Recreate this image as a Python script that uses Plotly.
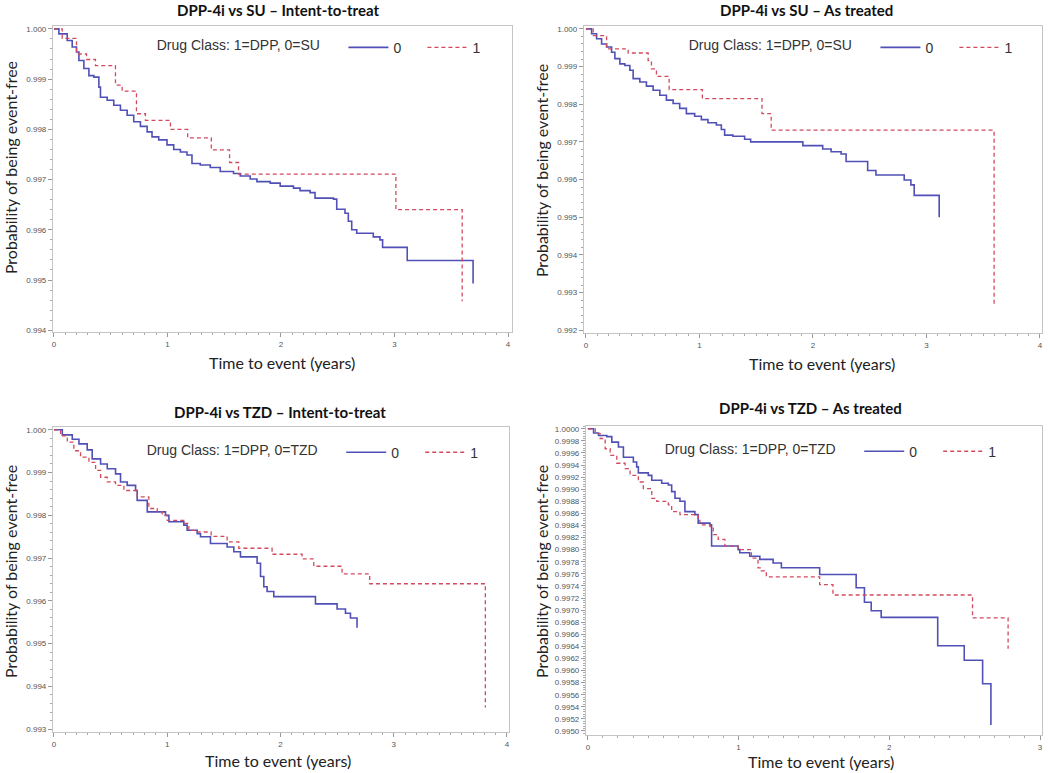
import plotly.graph_objects as go

# Kaplan-Meier estimates (time in years, survival probability)
# DPP-4i vs SU, intent-to-treat
su_itt_t0 = [0, 0.044, 0.117, 0.161, 0.199, 0.220, 0.264, 0.308, 0.352, 0.396, 0.410, 0.469,
             0.527, 0.586, 0.645, 0.703, 0.762, 0.821, 0.864, 0.923, 0.996, 1.055, 1.114,
             1.172, 1.216, 1.289, 1.377, 1.465, 1.582, 1.641, 1.729, 1.788, 1.905, 1.993,
             2.110, 2.168, 2.256, 2.300, 2.462, 2.491, 2.564, 2.593, 2.623, 2.667, 2.813,
             2.872, 2.895, 3.112, 3.692]
su_itt_s0 = [1.0, 0.99990, 0.99977, 0.99964, 0.99954, 0.99937, 0.99921, 0.99907, 0.99904,
             0.99884, 0.99864, 0.99858, 0.99848, 0.99838, 0.99828, 0.99815, 0.99806, 0.99795,
             0.99785, 0.99779, 0.99769, 0.99760, 0.99755, 0.99749, 0.99732, 0.99729, 0.99724,
             0.99716, 0.99712, 0.99707, 0.99701, 0.99696, 0.99693, 0.99687, 0.99683, 0.99678,
             0.99674, 0.99663, 0.99661, 0.99641, 0.99633, 0.99617, 0.99600, 0.99593, 0.99586,
             0.99580, 0.99565, 0.99539, 0.99493]
su_itt_t1 = [0, 0.073, 0.199, 0.287, 0.366, 0.542, 0.601, 0.727, 0.806, 1.026, 1.178, 1.386,
             1.547, 1.626, 3.012, 3.596]
su_itt_s1 = [1.0, 0.99981, 0.99950, 0.99939, 0.99927, 0.99888, 0.99876, 0.99831, 0.99818,
             0.99800, 0.99783, 0.99759, 0.99734, 0.99711, 0.99640, 0.99458]

# DPP-4i vs SU, as treated
su_at_t0 = [0, 0.050, 0.094, 0.138, 0.182, 0.226, 0.255, 0.299, 0.343, 0.387, 0.416, 0.475,
            0.533, 0.592, 0.651, 0.709, 0.768, 0.826, 0.885, 0.958, 1.017, 1.075, 1.149,
            1.193, 1.222, 1.295, 1.398, 1.451, 1.911, 2.086, 2.160, 2.248, 2.292, 2.482,
            2.555, 2.804, 2.863, 2.892, 3.112]
su_at_s0 = [1.0, 0.99987, 0.99974, 0.99960, 0.99952, 0.99938, 0.99921, 0.99907, 0.99903,
            0.99890, 0.99868, 0.99859, 0.99848, 0.99837, 0.99824, 0.99811, 0.99802, 0.99789,
            0.99775, 0.99768, 0.99759, 0.99751, 0.99745, 0.99733, 0.99718, 0.99715, 0.99707,
            0.99700, 0.99690, 0.99681, 0.99674, 0.99668, 0.99648, 0.99624, 0.99612, 0.99599,
            0.99586, 0.99558, 0.99500]
su_at_t1 = [0, 0.064, 0.182, 0.372, 0.548, 0.577, 0.621, 0.733, 1.026, 1.551, 1.632, 3.596]
su_at_s1 = [1.0, 0.99982, 0.99947, 0.99936, 0.99916, 0.99894, 0.99874, 0.99839, 0.99815,
            0.99775, 0.99731, 0.99266]

# DPP-4i vs TZD, intent-to-treat
tzd_itt_t0 = [0, 0.074, 0.162, 0.221, 0.294, 0.338, 0.412, 0.471, 0.544, 0.588, 0.647, 0.721,
              0.735, 0.824, 0.985, 1.015, 1.147, 1.176, 1.265, 1.294, 1.382, 1.529, 1.588,
              1.647, 1.794, 1.824, 1.853, 1.882, 1.941, 2.309, 2.500, 2.574, 2.618, 2.676]
tzd_itt_s0 = [1.0, 0.99988, 0.99978, 0.99967, 0.99953, 0.99932, 0.99920, 0.99909, 0.99897,
              0.99878, 0.99870, 0.99858, 0.99835, 0.99808, 0.99800, 0.99785, 0.99777, 0.99765,
              0.99757, 0.99750, 0.99734, 0.99726, 0.99715, 0.99703, 0.99688, 0.99657, 0.99633,
              0.99622, 0.99610, 0.99593, 0.99581, 0.99571, 0.99560, 0.99537]
tzd_itt_t1 = [0, 0.059, 0.118, 0.176, 0.235, 0.309, 0.368, 0.412, 0.471, 0.544, 0.618, 0.735,
              0.838, 0.912, 0.956, 1.000, 1.147, 1.191, 1.265, 1.388, 1.529, 1.632, 1.926,
              2.191, 2.294, 2.544, 2.788, 3.809]
tzd_itt_s1 = [1.0, 0.99986, 0.99971, 0.99951, 0.99936, 0.99924, 0.99905, 0.99889, 0.99878,
              0.99870, 0.99858, 0.99843, 0.99816, 0.99808, 0.99800, 0.99788, 0.99781, 0.99765,
              0.99761, 0.99751, 0.99738, 0.99723, 0.99709, 0.99698, 0.99681, 0.99663, 0.99640,
              0.99351]

# DPP-4i vs TZD, as treated
tzd_at_t0 = [0, 0.038, 0.071, 0.126, 0.159, 0.203, 0.236, 0.302, 0.324, 0.335, 0.401, 0.424,
             0.490, 0.534, 0.556, 0.578, 0.611, 0.644, 0.710, 0.732, 0.810, 0.821, 0.997,
             1.008, 1.074, 1.141, 1.229, 1.284, 1.538, 1.780, 1.835, 1.880, 1.946, 2.321,
             2.497, 2.619, 2.674]
tzd_at_s0 = [1.0, 0.99993, 0.99989, 0.99987, 0.99978, 0.99970, 0.99953, 0.99945, 0.99937,
             0.99927, 0.99923, 0.99915, 0.99910, 0.99907, 0.99896, 0.99885, 0.99880, 0.99863,
             0.99858, 0.99844, 0.99841, 0.99806, 0.99800, 0.99795, 0.99789, 0.99784, 0.99778,
             0.99770, 0.99759, 0.99737, 0.99713, 0.99699, 0.99688, 0.99641, 0.99617, 0.99578,
             0.99510]
tzd_at_t1 = [0, 0.049, 0.082, 0.115, 0.148, 0.192, 0.247, 0.280, 0.335, 0.368, 0.424, 0.457,
             0.534, 0.556, 0.611, 0.732, 0.743, 0.810, 0.832, 0.865, 0.909, 0.997, 1.085,
             1.129, 1.151, 1.184, 1.538, 1.626, 2.552, 2.788]
tzd_at_s1 = [1.0, 0.99992, 0.99984, 0.99967, 0.99956, 0.99943, 0.99934, 0.99923, 0.99912,
             0.99901, 0.99885, 0.99880, 0.99874, 0.99863, 0.99858, 0.99852, 0.99841, 0.99838,
             0.99825, 0.99817, 0.99806, 0.99800, 0.99786, 0.99770, 0.99765, 0.99755, 0.99742,
             0.99725, 0.99687, 0.99636]

titles = ["DPP-4i vs SU – Intent-to-treat", "DPP-4i vs SU – As treated",
          "DPP-4i vs TZD – Intent-to-treat", "DPP-4i vs TZD – As treated"]
legend_titles = ["Drug Class: 1=DPP, 0=SU", "Drug Class: 1=DPP, 0=SU",
                 "Drug Class: 1=DPP, 0=TZD", "Drug Class: 1=DPP, 0=TZD"]

W, H = 1050, 773
BLUE = "#5050b6"
RED = "#d24a5e"

panels = [
    # curves, plot box in px (x0, x1, ytop, ybot), axis ranges, y tick step/format, text spots
    dict(c0=(su_itt_t0, su_itt_s0), c1=(su_itt_t1, su_itt_s1), box=(52, 512, 25, 333),
         xr=[-0.009, 4.035], yr=[0.99396, 1.00006], yt=0.001, yf=".3f",
         title=(278, 9), ytitle=(9, 167), xtitle=(282, 363), leg=(154, 47)),
    dict(c0=(su_at_t0, su_at_s0), c1=(su_at_t1, su_at_s1), box=(584, 1043, 25, 334),
         xr=[-0.018, 4.018], yr=[0.99192, 1.00008], yt=0.001, yf=".3f",
         title=(807, 9), ytitle=(541, 170), xtitle=(823, 364), leg=(687, 47)),
    dict(c0=(tzd_itt_t0, tzd_itt_s0), c1=(tzd_itt_t1, tzd_itt_s1), box=(52, 509, 428, 735),
         xr=[-0.009, 4.018], yr=[0.99293, 1.00007], yt=0.001, yf=".3f",
         title=(280, 413), ytitle=(9, 573), xtitle=(278, 763), leg=(144, 454)),
    dict(c0=(tzd_at_t0, tzd_at_s0), c1=(tzd_at_t1, tzd_at_s1), box=(586, 1043, 427, 738),
         xr=[-0.013, 3.013], yr=[0.99493, 1.00005], yt=0.0002, yf=".4f",
         title=(811, 409), ytitle=(541, 573), xtitle=(822, 764), leg=(663, 453)),
]

fig = go.Figure()
annotations = []
layout = {}

for i, p in enumerate(panels, start=1):
    sfx = "" if i == 1 else str(i)
    leg = "legend" if i == 1 else f"legend{i}"
    for name, (t, s), color, dash, width in [("0", p["c0"], BLUE, "solid", 1.6),
                                             ("1", p["c1"], RED, "4px,3px", 1.3)]:
        fig.add_trace(go.Scatter(
            x=t, y=s, mode="lines", name=name, line_shape="hv",
            line=dict(color=color, dash=dash, width=width),
            xaxis="x" + sfx, yaxis="y" + sfx, legend=leg,
        ))

    x0, x1, yt_, yb_ = p["box"]
    tickfont = dict(family="Liberation Sans, Arial", size=8, color="#555")
    layout["xaxis" + sfx] = dict(
        domain=[x0 / W, x1 / W], range=p["xr"], anchor="y" + sfx,
        tickmode="linear", tick0=0, dtick=1, ticks="outside", ticklen=4,
        tickcolor="#999", showline=True, linecolor="#c4c4c4", mirror=True,
        showgrid=False, zeroline=False, tickfont=tickfont,
        minor=dict(dtick=0.1, ticks="outside", ticklen=2, tickcolor="#aaa", showgrid=False),
    )
    layout["yaxis" + sfx] = dict(
        domain=[1 - yb_ / H, 1 - yt_ / H], range=p["yr"], anchor="x" + sfx,
        tickmode="linear", tick0=1.0, dtick=p["yt"], tickformat=p["yf"],
        ticks="outside", ticklen=4, tickcolor="#999", showline=True,
        linecolor="#c4c4c4", mirror=True, showgrid=False, zeroline=False,
        tickfont=tickfont,
        minor=dict(dtick=p["yt"] / 5, ticks="outside", ticklen=2, tickcolor="#aaa",
                   showgrid=False),
    )
    lx, ly = p["leg"]
    layout[leg] = dict(
        title=dict(text=legend_titles[i - 1] + "    ", side="left",
                   font=dict(family="Liberation Sans, Arial", size=14, color="#333")),
        orientation="h", x=lx / W, y=1 - ly / H, xanchor="left", yanchor="middle",
        xref="paper", yref="paper", bgcolor="rgba(0,0,0,0)", itemwidth=40,
        entrywidth=24, entrywidthmode="pixels",
        font=dict(family="Liberation Sans, Arial", size=14, color="#333"),
    )

    tx, ty = p["title"]
    annotations.append(dict(text="<b>" + titles[i - 1] + "</b>", x=tx / W, y=1 - ty / H,
                            xref="paper", yref="paper", showarrow=False,
                            xanchor="center", yanchor="middle",
                            font=dict(family="Lato, Open Sans", size=15, color="#111")))
    ax_, ay_ = p["ytitle"]
    annotations.append(dict(text="Probability of being event-free", x=ax_ / W, y=1 - ay_ / H,
                            xref="paper", yref="paper", showarrow=False, textangle=-90,
                            xanchor="center", yanchor="middle",
                            font=dict(family="Lato, Open Sans", size=16, color="#222")))
    bx, by = p["xtitle"]
    annotations.append(dict(text="Time to event (years)", x=bx / W, y=1 - by / H,
                            xref="paper", yref="paper", showarrow=False,
                            xanchor="center", yanchor="middle",
                            font=dict(family="Lato, Open Sans", size=16, color="#222")))

fig.update_layout(
    width=W, height=H, margin=dict(l=0, r=0, t=0, b=0),
    paper_bgcolor="white", plot_bgcolor="white",
    annotations=annotations, **layout,
)

# the page body has a default 8px margin; drop it so the figure fills the window
fig.write_html("out.html", config={"displayModeBar": False},
               post_script="document.body.style.margin='0px';")
